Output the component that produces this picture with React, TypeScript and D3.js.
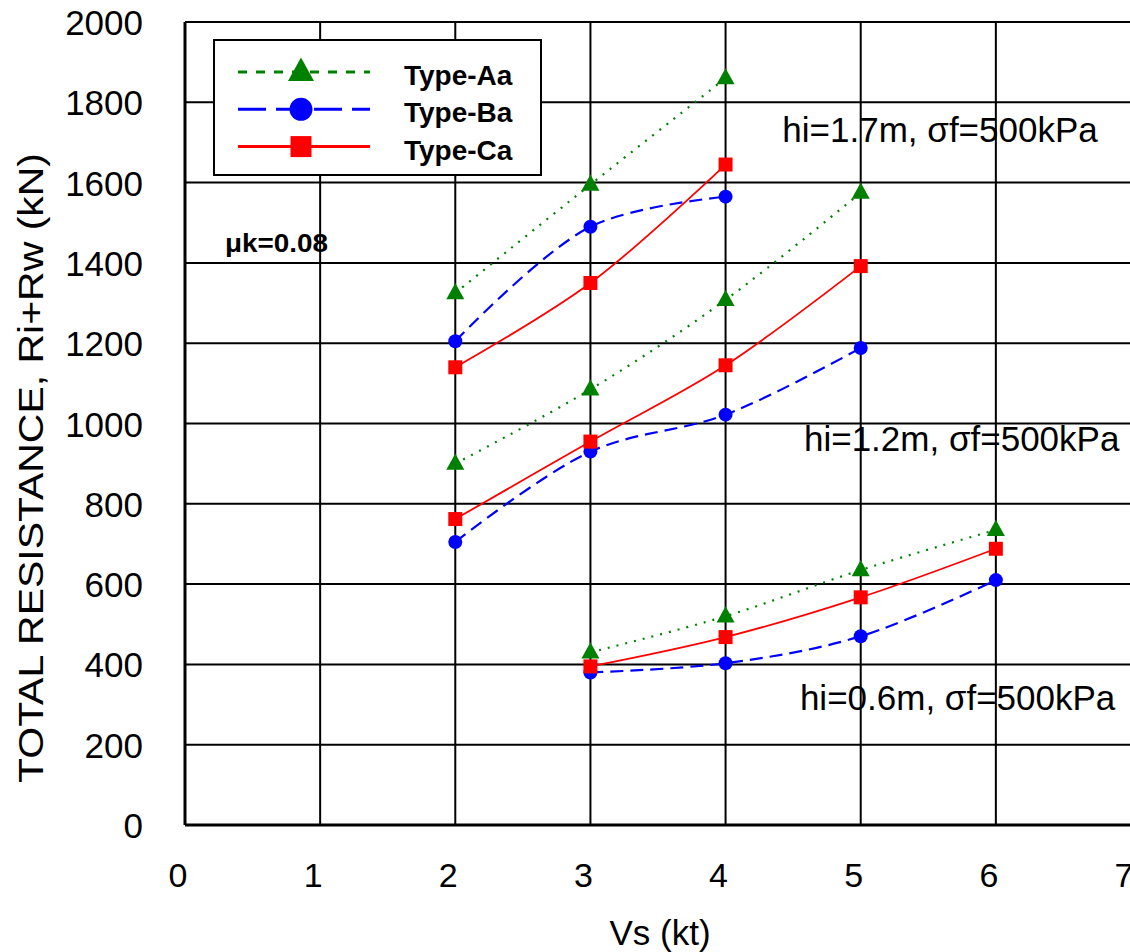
import React from "react";
import * as d3 from "d3";

// Vs (kt) per set, resistance (kN) per type
const vs17 = [2, 3, 4];
const vs12 = [2, 3, 4, 5];
const vs06 = [3, 4, 5, 6];

const typeA17 = [1325, 1595, 1860];
const typeB17 = [1205, 1490, 1565];
const typeC17 = [1140, 1350, 1645];

const typeA12 = [900, 1085, 1308, 1575];
const typeB12 = [705, 930, 1022, 1188];
const typeC12 = [762, 955, 1145, 1392];

const typeA06 = [430, 520, 635, 735];
const typeB06 = [380, 403, 470, 610];
const typeC06 = [395, 468, 567, 688];

const xTicks = [0, 1, 2, 3, 4, 5, 6, 7];
const yTicks = [0, 200, 400, 600, 800, 1000, 1200, 1400, 1600, 1800, 2000];

const typeNames = ["Type-Aa", "Type-Ba", "Type-Ca"];
const notes = [
  { label: "hi=1.7m, ", at: [4.42, 1700] },
  { label: "hi=1.2m, ", at: [4.58, 932] },
  { label: "hi=0.6m, ", at: [4.55, 286] },
];

const styles = [
  { color: "#008000", dash: "2,7", width: 2.2, marker: "tri" },
  { color: "#0000ff", dash: "13,7", width: 2.2, marker: "circle" },
  { color: "#ff0000", dash: null, width: 1.8, marker: "square" },
];

const W = 1130;
const H = 952;
const left = 185;
const top = 22;
const bottom = 825;
const right = 1131;

const x = d3.scaleLinear().domain([0, 7]).range([left, right]);
const y = d3.scaleLinear().domain([0, 2000]).range([bottom, top]);

const sets = [
  { vs: vs17, series: [typeA17, typeB17, typeC17] },
  { vs: vs12, series: [typeA12, typeB12, typeC12] },
  { vs: vs06, series: [typeA06, typeB06, typeC06] },
];

const line = d3
  .line<[number, number]>()
  .x((d) => x(d[0]))
  .y((d) => y(d[1]))
  .curve(d3.curveCatmullRom.alpha(0.5));

function Marker({ kind, cx, cy, s, color }: any) {
  if (kind === "tri") {
    const h = s * 0.9;
    return (
      <path
        d={`M${cx},${cy - h * 0.62}L${cx + s / 2},${cy + h * 0.38}L${cx - s / 2},${cy + h * 0.38}Z`}
        fill={color}
      />
    );
  }
  if (kind === "circle") return <circle cx={cx} cy={cy} r={s / 2} fill={color} />;
  return <rect x={cx - s / 2} y={cy - s / 2} width={s} height={s} fill={color} />;
}

const font = "'Liberation Sans', Arial, sans-serif";

export default function App() {
  return (
    <svg width={W} height={H} style={{ display: "block", position: "absolute", left: 0, top: 0 }} fontFamily={font}>
      <rect width={W} height={H} fill="#fff" />
      {/* grid */}
      {yTicks.map((t) => (
        <line key={"gy" + t} x1={left} x2={right} y1={y(t)} y2={y(t)} stroke="#000" strokeWidth={2} />
      ))}
      {xTicks.map((t) => (
        <line key={"gx" + t} x1={x(t)} x2={x(t)} y1={top} y2={bottom} stroke="#000" strokeWidth={2} />
      ))}
      <line x1={left} x2={right} y1={bottom} y2={bottom} stroke="#000" strokeWidth={3} />
      <line x1={left} x2={left} y1={top} y2={bottom} stroke="#000" strokeWidth={3} />

      {/* tick labels */}
      {yTicks.map((t) => (
        <text key={"ly" + t} x={143} y={y(t) + 13} textAnchor="end" fontSize={35}>
          {t}
        </text>
      ))}
      {xTicks.map((t) => (
        <text key={"lx" + t} x={x(t) - 7} y={887} textAnchor="middle" fontSize={34}>
          {t}
        </text>
      ))}
      <text x={660} y={945} textAnchor="middle" fontSize={35}>
        Vs (kt)
      </text>
      <text
        transform="translate(43,468) rotate(-90)"
        textAnchor="middle"
        fontSize={35}
        textLength={630}
        lengthAdjust="spacingAndGlyphs"
      >
        TOTAL RESISTANCE, Ri+Rw (kN)
      </text>

      {/* series */}
      {sets.map((set, si) =>
        set.series.map((vals, ti) => {
          const st = styles[ti];
          const pts = set.vs.map((v, i) => [v, vals[i]] as [number, number]);
          return (
            <path
              key={`s${si}-${ti}`}
              d={line(pts) || ""}
              fill="none"
              stroke={st.color}
              strokeWidth={st.width}
              strokeDasharray={st.dash || undefined}
            />
          );
        })
      )}
      {sets.map((set, si) =>
        set.series.map((vals, ti) => {
          const st = styles[ti];
          return (
            <g key={`m${si}-${ti}`}>
              {set.vs.map((v, i) => (
                <Marker
                  key={i}
                  kind={st.marker}
                  cx={x(v)}
                  cy={y(vals[i])}
                  s={st.marker === "tri" ? 18 : st.marker === "circle" ? 14 : 14}
                  color={st.color}
                />
              ))}
            </g>
          );
        })
      )}

      {/* annotations */}
      {notes.map((n) => (
        <text key={n.label} x={x(n.at[0])} y={y(n.at[1])} fontSize={35}>
          {n.label}
          <tspan>σ</tspan>f=500kPa
        </text>
      ))}
      <text x={225} y={252} fontSize={25} fontWeight="bold" textLength={103} lengthAdjust="spacingAndGlyphs">
        μk=0.08
      </text>

      {/* legend */}
      <rect x={214} y={40} width={327} height={135} fill="#fff" stroke="#000" strokeWidth={2} />
      {typeNames.map((name, i) => {
        const st = styles[i];
        const ly = 72 + i * 37.3;
        const legendDash = i === 0 ? "9,9" : i === 1 ? "28,10" : undefined;
        return (
          <g key={name}>
            <line
              x1={238}
              x2={370}
              y1={ly}
              y2={ly}
              stroke={st.color}
              strokeWidth={3}
              strokeDasharray={legendDash}
            />
            <Marker
              kind={st.marker}
              cx={301}
              cy={ly}
              s={st.marker === "tri" ? 26 : st.marker === "circle" ? 23 : 21}
              color={st.color}
            />
            <text x={404} y={ly + 13} fontSize={28} fontWeight="bold">
              {name}
            </text>
          </g>
        );
      })}
    </svg>
  );
}
